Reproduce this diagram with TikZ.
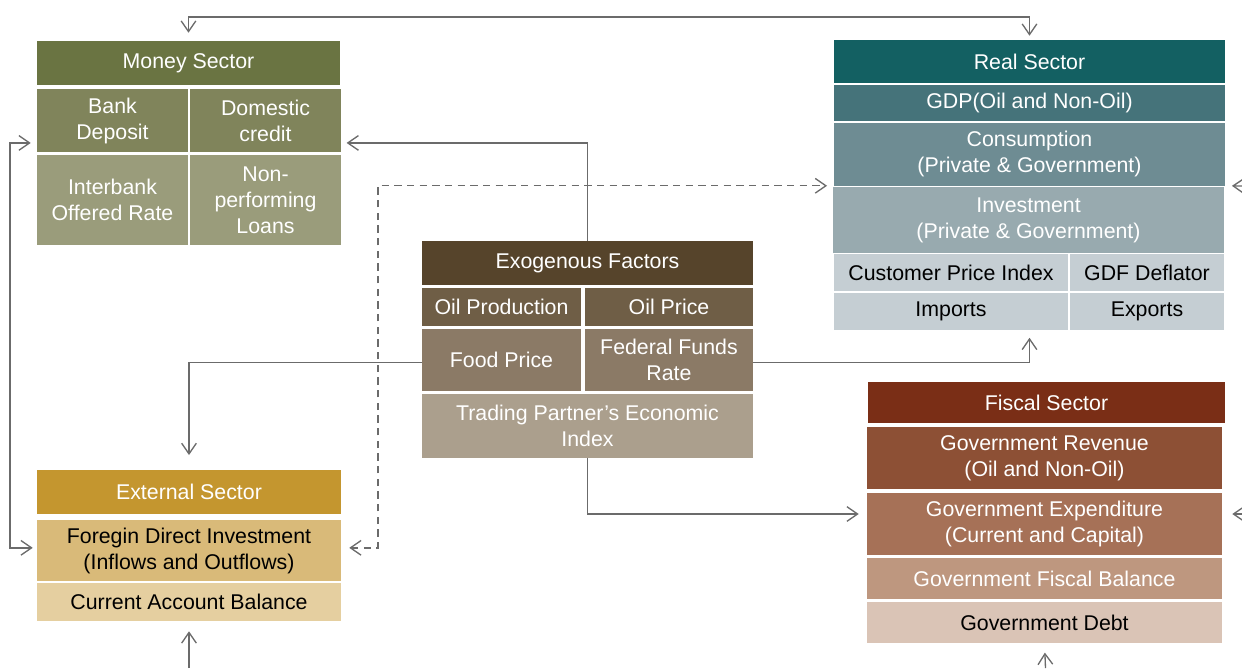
\documentclass[tikz,border=0pt]{standalone}
\usepackage{fontspec}
\setmainfont{Liberation Sans}
\usetikzlibrary{arrows.meta}
\usepackage{xcolor}

\definecolor{linegray}{HTML}{6B6B6B}
\definecolor{msA}{HTML}{6A7442}
\definecolor{msB}{HTML}{80845B}
\definecolor{msC}{HTML}{9A9C7B}
\definecolor{rsA}{HTML}{136062}
\definecolor{rsB}{HTML}{45737A}
\definecolor{rsC}{HTML}{6E8C93}
\definecolor{rsD}{HTML}{98AAAF}
\definecolor{rsE}{HTML}{C5CED3}
\definecolor{efA}{HTML}{56442B}
\definecolor{efB}{HTML}{6F5E46}
\definecolor{efC}{HTML}{8B7A66}
\definecolor{efD}{HTML}{AB9F8D}
\definecolor{esA}{HTML}{C4962F}
\definecolor{esB}{HTML}{D9BA79}
\definecolor{esC}{HTML}{E5CFA0}
\definecolor{fsA}{HTML}{7A2E16}
\definecolor{fsB}{HTML}{8D5035}
\definecolor{fsC}{HTML}{A67157}
\definecolor{fsD}{HTML}{BE977F}
\definecolor{fsE}{HTML}{DAC4B6}

\begin{document}
\begin{tikzpicture}[x=0.75pt, y=-0.75pt,
    cell/.style 2 args={rectangle, inner sep=0pt, align=center, text=white,
        minimum width=#1*0.75pt, minimum height=#2*0.75pt,
        font=\fontsize{16}{19.5}\selectfont},
    conn/.style={draw=linegray, line width=1pt, >={Straight Barb[length=8pt,width=11pt]}}]

\useasboundingbox (0,0) rectangle (1242,668);

\node[cell={303}{44}, fill=msA] (ms) at (188.5,63) {Money Sector};
\node[cell={151}{63}, fill=msB] (ms1) at (112.5,120.5) {Bank\\Deposit};
\node[cell={151}{63}, fill=msB] (ms2) at (265.5,120.5) {Domestic\\credit};
\node[cell={151}{90}, fill=msC] (ms3) at (112.5,200) {Interbank\\Offered Rate};
\node[cell={151}{90}, fill=msC] (ms4) at (265.5,200) {Non-\\performing\\Loans};

\node[cell={391}{43}, fill=rsA] (rs) at (1029.5,61.5) {Real Sector};
\node[cell={391}{36}, fill=rsB] (gdp) at (1029.5,103) {GDP(Oil and Non-Oil)};
\node[cell={391}{62.5}, fill=rsC] (cons) at (1029.5,154.25) {Consumption\\(Private \& Government)};
\node[cell={391}{66}, fill=rsD] (inv) at (1028.5,220) {Investment\\(Private \& Government)};
\node[cell={234}{37}, fill=rsE, text=black] (cpi) at (951,272.5) {Customer Price Index};
\node[cell={154}{37}, fill=rsE, text=black] (gdf) at (1147,272.5) {GDF Deflator};
\node[cell={234}{37}, fill=rsE, text=black] (imp) at (951,311) {Imports};
\node[cell={154}{37}, fill=rsE, text=black] (exp) at (1147,311) {Exports};

\node[cell={331}{44}, fill=efA] (ef) at (587.5,263) {Exogenous Factors};
\node[cell={159}{38}, fill=efB] (op) at (501.5,307) {Oil Production};
\node[cell={168}{38}, fill=efB] (opr) at (669,307) {Oil Price};
\node[cell={159}{62}, fill=efC] (fp) at (501.5,360) {Food Price};
\node[cell={168}{62}, fill=efC] (ffr) at (669,360) {Federal Funds\\Rate};
\node[cell={331}{64}, fill=efD] (tp) at (587.5,426) {Trading Partner’s Economic\\Index};

\node[cell={304}{44}, fill=esA] (es) at (189,492) {External Sector};
\node[cell={304}{61}, fill=esB, text=black] (fdi) at (189,550.5) {Foregin Direct Investment\\(Inflows and Outflows)};
\node[cell={304}{38}, fill=esC, text=black] (cab) at (189,602) {Current Account Balance};

\node[cell={357}{41}, fill=fsA] (fs) at (1046.5,402.5) {Fiscal Sector};
\node[cell={355}{62}, fill=fsB] (rev) at (1044.5,458) {Government Revenue\\(Oil and Non-Oil)};
\node[cell={355}{62}, fill=fsC] (gexp) at (1044.5,524) {Government Expenditure\\(Current and Capital)};
\node[cell={355}{41}, fill=fsD] (bal) at (1044.5,578.5) {Government Fiscal Balance};
\node[cell={355}{41}, fill=fsE, text=black] (debt) at (1044.5,622.5) {Government Debt};

\coordinate (top) at (600,17);
\coordinate (lft) at (10,300);
\coordinate (dsh) at (378,300);
\coordinate (rsb) at (rs.center |- imp.south);
\coordinate (rin) at (1242,186);
\coordinate (fin) at (1242,514);
\coordinate (bl) at (189,668);
\coordinate (br) at (1045.5,668);

\draw[conn, <->, shorten <=6pt, shorten >=3pt] (ms.north) |- (top) -| (rs.north);
\draw[conn, <->, shorten <=4.5pt, shorten >=3pt] ([yshift=7pt]ms1.south west) -| (lft) |- ([yshift=2pt]fdi.west);
\draw[conn, ->, shorten >=4pt] (ef.north) |- ([yshift=7pt]ms2.south east);
\draw[conn, dash pattern=on 5.5pt off 4pt, <->, shorten <=6pt, shorten >=5pt] ([yshift=2pt]fdi.east) -| (dsh) |- (cons.south west);
\draw[conn, ->, shorten >=11pt] ([yshift=-2pt]fp.west) -| (es.north);
\draw[conn, ->, shorten >=6pt] ([yshift=-2pt]ffr.east) -| (rsb);
\draw[conn, ->, shorten >=6pt] (tp.south) |- ([yshift=7.5pt]gexp.west);

\draw[conn, ->, shorten >=5pt] (rin) -- (cons.south east);
\draw[conn, ->, shorten >=7.5pt] (fin) -- ([yshift=7.5pt]gexp.east);
\draw[conn, ->, shorten >=7.5pt] (bl) -- (cab.south);
\draw[conn, ->, shorten >=7pt] (br) -- (debt.south);

\end{tikzpicture}
\end{document}
